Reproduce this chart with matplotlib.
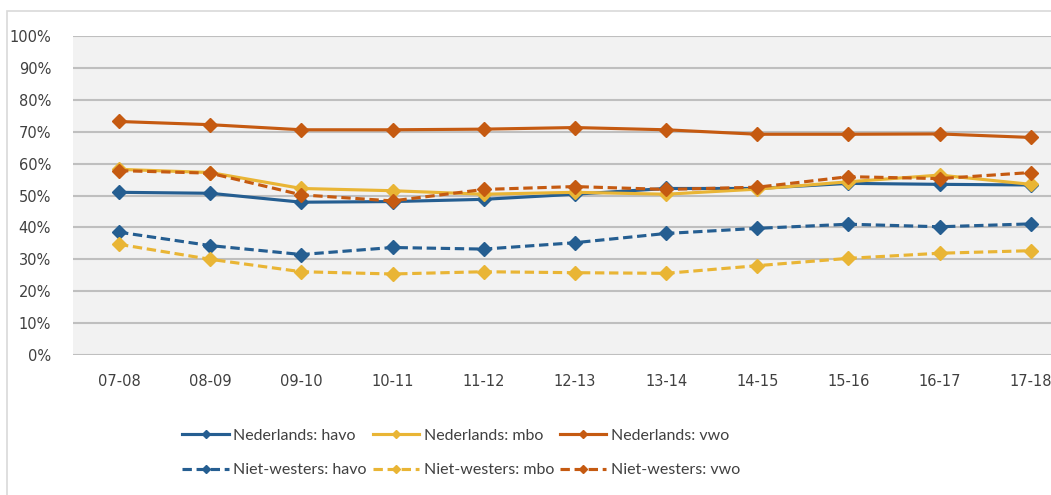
import matplotlib.pyplot as plt
from matplotlib.patches import Rectangle

# ===== Data =====
years = ['07-08', '08-09', '09-10', '10-11', '11-12', '12-13',
         '13-14', '14-15', '15-16', '16-17', '17-18']

nl_havo = [51.0, 50.7, 47.9, 48.1, 48.8, 50.4, 52.2, 52.2, 53.8, 53.5, 53.3]
nl_mbo = [58.2, 57.2, 52.2, 51.5, 50.4, 51.0, 50.4, 52.0, 54.3, 56.4, 53.5]
nl_vwo = [73.2, 72.2, 70.6, 70.6, 70.8, 71.3, 70.6, 69.2, 69.2, 69.3, 68.2]
nw_havo = [38.5, 34.3, 31.5, 33.7, 33.2, 35.2, 38.1, 39.7, 41.0, 40.2, 41.1]
nw_mbo = [34.7, 30.0, 26.1, 25.4, 26.1, 25.8, 25.6, 28.0, 30.3, 31.9, 32.7]
nw_vwo = [57.8, 57.0, 50.2, 48.3, 51.9, 52.8, 51.9, 52.6, 55.9, 55.3, 57.2]

BLUE = '#255E91'
YELLOW = '#E9B535'
ORANGE = '#C55A11'

plt.rcParams['font.family'] = ['DejaVu Sans']

fig = plt.figure(figsize=(10.51, 4.95), dpi=100)

# chart frame (cropped at the right)
fig.patches.append(Rectangle((7 / 1051, -0.1), 1.2, (495 - 11) / 495 + 0.1,
                             transform=fig.transFigure, fill=False,
                             edgecolor='#D9D9D9', linewidth=1.2))

ax = fig.add_axes([73.4 / 1051, 140 / 495, 1003 / 1051, 319 / 495])
ax.set_facecolor('#F2F2F2')

x = range(len(years))
series = [
    (nl_havo, BLUE, '-', 'Nederlands: havo'),
    (nw_havo, BLUE, '--', 'Niet-westers: havo'),
    (nl_mbo, YELLOW, '-', 'Nederlands: mbo'),
    (nw_mbo, YELLOW, '--', 'Niet-westers: mbo'),
    (nl_vwo, ORANGE, '-', 'Nederlands: vwo'),
    (nw_vwo, ORANGE, '--', 'Niet-westers: vwo'),
]
draw_order = [0, 2, 4, 1, 3, 5]
handles = {}
for i in draw_order:
    vals, col, ls, lab = series[i]
    line, = ax.plot(x, vals, color=col, linestyle=ls, linewidth=2.25,
                    marker='D', markersize=7, label=lab, zorder=3)
    if ls == '--':
        line.set_dashes((3, 1.5))
    handles[i] = line

ax.set_xlim(-0.5, len(years) - 0.5)
ax.set_ylim(0, 100)
ax.set_yticks(range(0, 101, 10))
ax.set_yticklabels([f'{v}%' for v in range(0, 101, 10)])
ax.set_xticks(list(x))
ax.set_xticklabels(years)
ax.tick_params(axis='both', length=0, labelsize=10.5, colors='#404040')
ax.tick_params(axis='y', pad=16)
ax.tick_params(axis='x', pad=14)
ax.grid(axis='y', color='#BFBFBF', linewidth=1.5)
ax.set_axisbelow(True)
for s in ax.spines.values():
    s.set_visible(False)

fig.legend([handles[i] for i in range(6)], [series[i][3] for i in range(6)],
           ncol=3, loc='center left', bbox_to_anchor=(168 / 1051, 1 - 453 / 495),
           frameon=False, prop={'family': 'Lato', 'size': 11.5},
           handlelength=2.9, handletextpad=0.3,
           columnspacing=0.35, labelspacing=1.25, markerscale=0.6,
           labelcolor='#404040')

plt.savefig('out.png', dpi=100)
